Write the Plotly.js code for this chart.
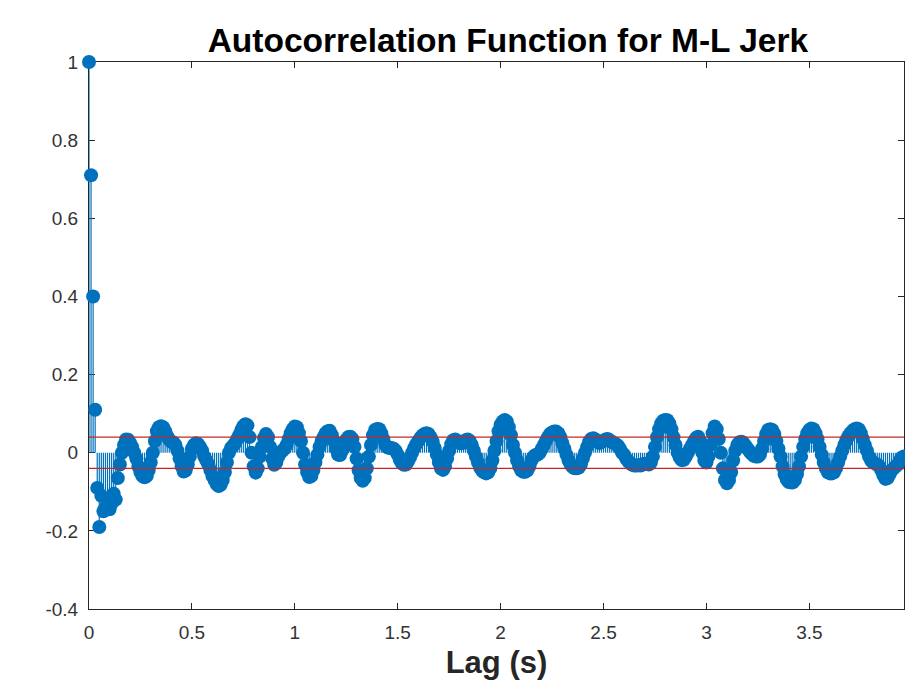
<!DOCTYPE html>
<html>
<head>
<meta charset="utf-8">
<script src="https://cdn.plot.ly/plotly-3.0.1.min.js"></script>
<style>html,body{margin:0;padding:0;background:#fff;}#chart{width:905px;height:690px;}</style>
</head>
<body>
<div id="chart"></div>
<script>
// Lag step (s) between successive autocorrelation samples
const lagStep = 0.01;

// Autocorrelation values, one per lag (0.00 s .. 3.96 s)
const acf = [
  1.00, 0.71, 0.40, 0.11, -0.09, -0.19, -0.11, -0.15, -0.14, -0.12,
  -0.145, -0.13, -0.105, -0.12, -0.065, -0.03, 0.00, 0.02, 0.034, 0.033,
  0.025, 0.015, 0.00, -0.015, -0.035, -0.05, -0.06, -0.063, -0.06, -0.045,
  -0.025, 0.00, 0.03, 0.055, 0.065, 0.068, 0.065, 0.055, 0.042, 0.033,
  0.028, 0.026, 0.02, 0.005, -0.015, -0.035, -0.048, -0.045, -0.03, -0.01,
  0.01, 0.02, 0.024, 0.022, 0.015, 0.005, -0.01, -0.02, -0.03, -0.045,
  -0.06, -0.07, -0.08, -0.085, -0.082, -0.07, -0.05, -0.025, 0.0, 0.012,
  0.018, 0.025, 0.035, 0.045, 0.058, 0.068, 0.073, 0.07, 0.04, 0.0,
  -0.035, -0.051, -0.04, -0.01, 0.015, 0.038, 0.048, 0.04, 0.015, -0.015,
  -0.031, -0.025, -0.01, 0.0, 0.005, 0.01, 0.02, 0.035, 0.05, 0.06,
  0.067, 0.065, 0.05, 0.03, 0.0, -0.03, -0.05, -0.062, -0.06, -0.045,
  -0.025, -0.005, 0.015, 0.03, 0.04, 0.05, 0.055, 0.056, 0.045, 0.03,
  0.01, -0.005, -0.006, 0.005, 0.02, 0.033, 0.04, 0.041, 0.035, 0.015,
  -0.015, -0.045, -0.065, -0.072, -0.065, -0.04, -0.01, 0.02, 0.045, 0.058,
  0.061, 0.06, 0.05, 0.035, 0.02, 0.014, 0.012, 0.012, 0.01, 0.005,
  -0.005, -0.018, -0.027, -0.031, -0.03, -0.022, -0.012, 0.0, 0.012, 0.022,
  0.03, 0.038, 0.044, 0.048, 0.05, 0.048, 0.04, 0.028, 0.012, -0.005,
  -0.025, -0.04, -0.044, -0.035, -0.015, 0.005, 0.022, 0.032, 0.034, 0.03,
  0.025, 0.024, 0.027, 0.032, 0.034, 0.03, 0.02, 0.005, -0.01, -0.025,
  -0.038, -0.046, -0.05, -0.053, -0.05, -0.04, -0.02, 0.005, 0.03, 0.055,
  0.072, 0.08, 0.084, 0.08, 0.065, 0.045, 0.02, 0.0, -0.02, -0.035,
  -0.045, -0.049, -0.049, -0.045, -0.035, -0.02, -0.01, -0.006, -0.005, 0.0,
  0.01, 0.02, 0.03, 0.04, 0.048, 0.052, 0.054, 0.054, 0.05, 0.04,
  0.025, 0.01, -0.005, -0.02, -0.03, -0.037, -0.04, -0.04, -0.038, -0.03,
  -0.015, 0.0, 0.015, 0.028, 0.035, 0.037, 0.034, 0.028, 0.025, 0.027,
  0.03, 0.034, 0.035, 0.032, 0.027, 0.025, 0.022, 0.018, 0.01, 0.0,
  -0.005, -0.015, -0.022, -0.028, -0.031, -0.033, -0.033, -0.032, -0.033, -0.03,
  -0.028, -0.028, -0.03, -0.025, -0.01, 0.015, 0.04, 0.06, 0.075, 0.082,
  0.084, 0.083, 0.075, 0.06, 0.04, 0.02, 0.0, -0.012, -0.019, -0.018,
  -0.01, 0.0, 0.01, 0.02, 0.03, 0.038, 0.041, 0.03, 0.0, -0.02,
  -0.025, -0.01, 0.02, 0.05, 0.067, 0.06, 0.035, 0.0, -0.04, -0.07,
  -0.078, -0.07, -0.05, -0.02, 0.005, 0.02, 0.027, 0.028, 0.025, 0.018,
  0.01, 0.003, -0.003, -0.008, -0.01, -0.01, -0.005, 0.01, 0.03, 0.048,
  0.058, 0.06, 0.058, 0.048, 0.03, 0.01, -0.01, -0.035, -0.055, -0.068,
  -0.075, -0.076, -0.076, -0.07, -0.055, -0.035, -0.01, 0.015, 0.035, 0.05,
  0.058, 0.062, 0.06, 0.05, 0.035, 0.015, -0.005, -0.025, -0.04, -0.05,
  -0.053, -0.053, -0.05, -0.04, -0.025, -0.01, 0.005, 0.02, 0.032, 0.042,
  0.05, 0.056, 0.06, 0.062, 0.06, 0.05, 0.035, 0.02, 0.005, -0.01,
  -0.02, -0.025, -0.028, -0.03, -0.035, -0.045, -0.058, -0.067, -0.065, -0.055,
  -0.045, -0.04, -0.035, -0.03, -0.02, -0.012, -0.01
];

// Confidence bounds (horizontal red lines)
const upperBound = 0.04;
const lowerBound = -0.04;

// Axis ticks
const xTickVals = [0, 0.5, 1, 1.5, 2, 2.5, 3, 3.5];
const xTickText = ["0", "0.5", "1", "1.5", "2", "2.5", "3", "3.5"];
const yTickVals = [-0.4, -0.2, 0, 0.2, 0.4, 0.6, 0.8, 1];
const yTickText = ["-0.4", "-0.2", "0", "0.2", "0.4", "0.6", "0.8", "1"];

// Lags from sample index
const lags = acf.map((_, i) => +(i * lagStep).toFixed(2));
const lagMax = lags[lags.length - 1];

// Stem segments
const stemX = [], stemY = [];
lags.forEach((t, i) => { stemX.push(t, t, null); stemY.push(0, acf[i], null); });

const blue = '#0072BD';
const axisCol = '#262626';
const font = 'Liberation Sans, Arial, sans-serif';

const traces = [
  { x: stemX, y: stemY, type: 'scatter', mode: 'lines', line: { color: blue, width: 1.2 },
    cliponaxis: false, hoverinfo: 'skip', showlegend: false },
  { x: lags, y: acf, type: 'scatter', mode: 'markers',
    marker: { color: blue, size: 14, line: { width: 0 } }, cliponaxis: false, showlegend: false },
  { x: [0, lagMax], y: [upperBound, upperBound], type: 'scatter', mode: 'lines',
    line: { color: '#c0282d', width: 1.2 }, showlegend: false },
  { x: [0, lagMax], y: [lowerBound, lowerBound], type: 'scatter', mode: 'lines',
    line: { color: '#c0282d', width: 1.2 }, showlegend: false }
];

const layout = {
  width: 905, height: 690,
  margin: { l: 89, r: 1, t: 62, b: 81 },
  paper_bgcolor: '#ffffff', plot_bgcolor: '#ffffff',
  showlegend: false,
  title: { text: '<b>Autocorrelation Function for M-L Jerk</b>',
    font: { family: font, size: 33.5, color: '#000000' },
    x: 0.514, xref: 'paper', xanchor: 'center', y: 1 - 40 / 690, yref: 'container', yanchor: 'middle' },
  xaxis: {
    range: [0, lagMax], tickmode: 'array', tickvals: xTickVals, ticktext: xTickText,
    ticks: 'inside', ticklen: 6, tickwidth: 1, tickcolor: axisCol,
    showline: true, linecolor: axisCol, linewidth: 1, mirror: 'ticks',
    showgrid: false, zeroline: false, layer: 'below traces',
    tickfont: { family: font, size: 19, color: '#333333' },
    ticklabelstandoff: 6,
    title: { text: '<b>Lag (s)</b>', standoff: 9,
      font: { family: font, size: 31, color: '#262626' } }
  },
  yaxis: {
    range: [-0.4, 1], tickmode: 'array', tickvals: yTickVals, ticktext: yTickText,
    ticks: 'inside', ticklen: 6, tickwidth: 1, tickcolor: axisCol,
    showline: true, linecolor: axisCol, linewidth: 1, mirror: 'ticks',
    showgrid: false, zeroline: false, layer: 'below traces',
    tickfont: { family: font, size: 19, color: '#333333' },
    ticklabelstandoff: 6
  }
};

Plotly.newPlot('chart', traces, layout, { displayModeBar: false, staticPlot: true });
</script>
</body>
</html>
